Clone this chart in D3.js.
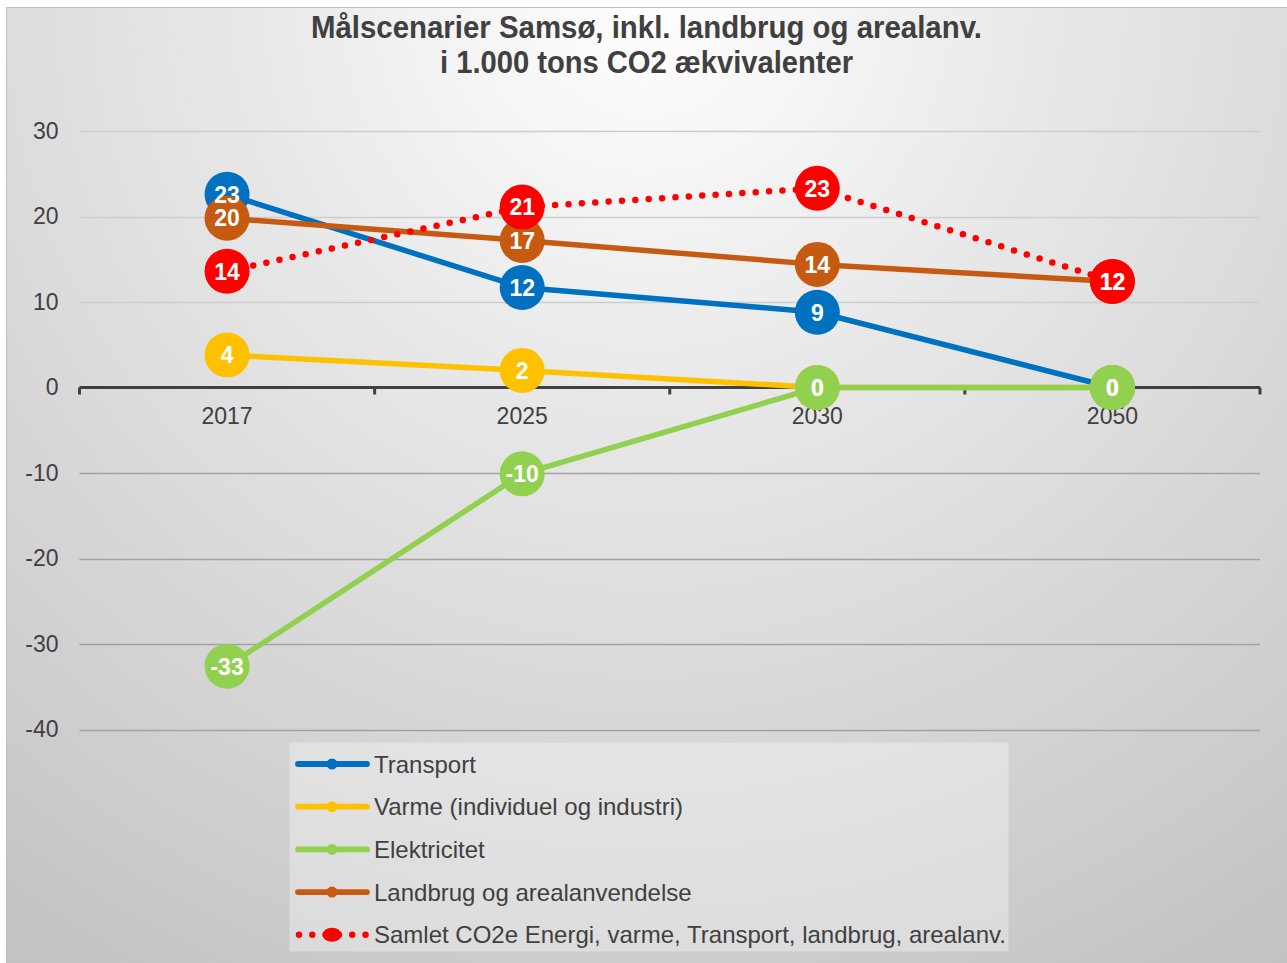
<!DOCTYPE html>
<html><head><meta charset="utf-8">
<script src="https://cdn.jsdelivr.net/npm/d3@7"></script>
<style>
html,body{margin:0;padding:0;background:#fff;}
svg{display:block;font-family:"Liberation Sans",Arial,sans-serif;}
</style></head>
<body><svg id="c" width="1287" height="963"></svg>
<script>
const categories = ["2017","2025","2030","2050"];
const seriesNames = ["Transport","Varme (individuel og industri)","Elektricitet","Landbrug og arealanvendelse","Samlet CO2e Energi, varme, Transport, landbrug, arealanv."];
const transport = [22.6, 11.7, 8.8, 0];
const varme = [3.8, 2.0, 0, 0];
const elektricitet = [-32.6, -10.1, 0, 0];
const landbrug = [19.8, 17.2, 14.4, 12.4];
const samlet = [13.6, 21.1, 23.3, 12.4];
const yTicks = [30, 20, 10, 0, -10, -20, -30, -40];
const titleLines = ["Målscenarier Samsø, inkl. landbrug og arealanv.", "i 1.000 tons CO2 ækvivalenter"];

const colors = ["#0070C0","#FFC000","#92D050","#C65A11","#FF0000"];
const seriesData = [transport, varme, elektricitet, landbrug, samlet];

const svg = d3.select("#c");
const defs = svg.append("defs");
const rg = defs.append("radialGradient").attr("id","bg").attr("gradientUnits","userSpaceOnUse")
  .attr("cx",646).attr("cy",0).attr("r",1160);
rg.append("stop").attr("offset","0").attr("stop-color","#ffffff");
rg.append("stop").attr("offset","0.35").attr("stop-color","#e8e8e8");
rg.append("stop").attr("offset","1").attr("stop-color","#c2c2c2");

svg.append("rect").attr("x",6.5).attr("y",7.5).attr("width",1290).attr("height",970)
  .attr("fill","url(#bg)").attr("stroke","#bdbdbd").attr("stroke-width",1);

const x = d3.scaleBand().domain(categories).range([79.5,1260]).padding(0);
const y = d3.scaleLinear().domain([-40,30]).range([729.5,131]);
const cx = c => x(c) + x.bandwidth()/2;

// title
const tt = svg.append("g").attr("fill","#404040").attr("font-weight","bold")
  .style("font-family",'"Liberation Sans Narrow","Arial Narrow","Liberation Sans",Arial,sans-serif');
tt.append("text").attr("x",646.5).attr("y",38).attr("text-anchor","middle").attr("font-size",31)
  .attr("textLength",671).attr("lengthAdjust","spacingAndGlyphs").text(titleLines[0]);
tt.append("text").attr("x",646.5).attr("y",73).attr("text-anchor","middle").attr("font-size",31)
  .attr("textLength",413).attr("lengthAdjust","spacingAndGlyphs").text(titleLines[1]);

// gridlines
const grid = svg.append("g");
grid.selectAll("line").data(yTicks.filter(d=>d!==0)).join("line")
  .attr("x1",79.5).attr("x2",1260).attr("y1",d=>Math.round(y(d))+0.5).attr("y2",d=>Math.round(y(d))+0.5)
  .attr("stroke",d=>d>0?"#cdcdcd":"#a2a2a2").attr("stroke-width",1.6);

// y axis labels
const ya = svg.append("g").attr("transform","translate(79.5,0)")
  .call(d3.axisLeft(y).tickValues(yTicks).tickSize(0).tickPadding(21).tickFormat(d=>String(d)));
ya.select(".domain").remove();
ya.selectAll("text").attr("font-size",23).attr("fill","#404040").style("font-family",'"Liberation Sans",Arial,sans-serif');

// zero axis line with ticks at band boundaries
const y0 = y(0);
const bounds = categories.map(c=>x(c)).concat([x.range()[1]]);
const ax = svg.append("g").attr("stroke","#404040");
ax.append("line").attr("x1",bounds[0]).attr("x2",bounds[bounds.length-1]).attr("y1",y0).attr("y2",y0).attr("stroke-width",3);
ax.selectAll("line.tk").data(bounds).join("line").attr("class","tk")
  .attr("x1",d=>d).attr("x2",d=>d).attr("y1",y0).attr("y2",y0+7).attr("stroke-width",3);

const xa = svg.append("g").attr("transform",`translate(0,${y0})`)
  .call(d3.axisBottom(x).tickSize(0).tickPadding(20));
xa.select(".domain").remove();
xa.selectAll("text").attr("font-size",23).attr("fill","#404040").style("font-family",'"Liberation Sans",Arial,sans-serif');

// lines
const line = d3.line().x((d,i)=>cx(categories[i])).y(d=>y(d));
const lg = svg.append("g");
seriesData.forEach((s,k)=>{
  const p = lg.append("path").datum(s).attr("d",line).attr("fill","none").attr("stroke",colors[k]);
  if(k===4){ p.attr("stroke-width",6.5).attr("stroke-dasharray","0 13.4").attr("stroke-linecap","round"); }
  else { p.attr("stroke-width",5.5).attr("stroke-linejoin","round"); }
  lg.selectAll(null).data(s).join("circle")
    .attr("cx",(d,i)=>cx(categories[i])).attr("cy",d=>y(d)).attr("r",22.5).attr("fill",colors[k]);
});
// labels
const lab = svg.append("g").attr("fill","#fff").attr("font-weight","bold").attr("font-size",23).attr("text-anchor","middle");
seriesData.forEach((s,k)=>{
  lab.selectAll(null).data(s).join("text")
    .attr("x",(d,i)=>cx(categories[i])).attr("y",d=>y(d)).attr("dy","0.36em")
    .text(d=>String(Math.round(d)));
});

// legend
const leg = svg.append("g");
leg.append("rect").attr("x",289.5).attr("y",742.5).attr("width",719).attr("height",209)
  .attr("fill","#ffffff").attr("fill-opacity",0.33);
seriesNames.forEach((n,k)=>{
  const ry = 764 + k*42.7;
  const g = leg.append("g");
  if(k===4){
    g.append("line").attr("x1",299).attr("x2",368).attr("y1",ry).attr("y2",ry).attr("stroke",colors[k])
      .attr("stroke-width",6.5).attr("stroke-linecap","round").attr("stroke-dasharray","0 13.3");
    g.append("ellipse").attr("cx",332).attr("cy",ry).attr("rx",9.5).attr("ry",7).attr("fill",colors[k]);
  } else {
    g.append("line").attr("x1",298).attr("x2",367).attr("y1",ry).attr("y2",ry).attr("stroke",colors[k])
      .attr("stroke-width",5.8).attr("stroke-linecap","round");
    g.append("circle").attr("cx",332).attr("cy",ry).attr("r",5.5).attr("fill",colors[k]);
  }
  g.append("text").attr("x",374).attr("y",ry).attr("dy","0.36em").attr("font-size",24).attr("fill","#404040").text(n);
});
</script></body></html>
